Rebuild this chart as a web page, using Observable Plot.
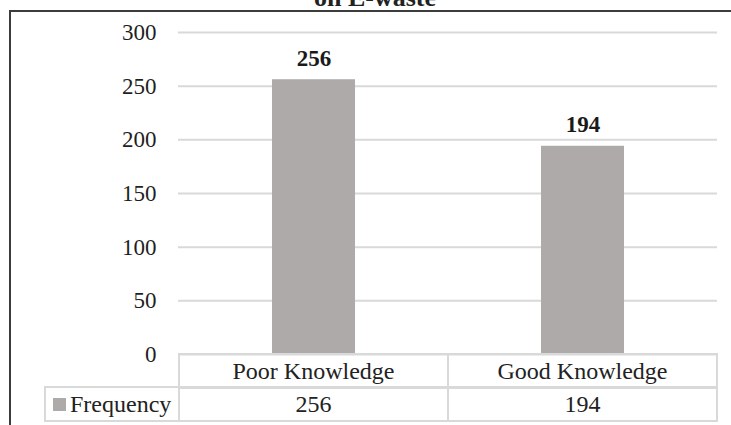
<!DOCTYPE html>
<html>
<head>
<meta charset="utf-8">
<script src="https://cdn.jsdelivr.net/npm/d3@7"></script>
<script src="https://cdn.jsdelivr.net/npm/@observablehq/plot@0.6"></script>
<style>
  body { margin: 0; background: #fff; }
  #wrap { position: relative; width: 731px; height: 425px; overflow: hidden;
          font-family: "Liberation Serif", "Times New Roman", serif; color: #222; background: #fff; }
  #frame { position: absolute; left: 9px; top: 10px; width: 760px; height: 460px;
           border-left: 2px solid #3c3c3c; border-top: 2px solid #3c3c3c; }
  #title { position: absolute; left: 8px; width: 734px; top: -15px; text-align: center;
           font-weight: bold; font-size: 26px; line-height: 26px; white-space: nowrap; }
  #chart { position: absolute; left: 0; top: 0; }
  .cell { position: absolute; box-sizing: border-box; border: 2px solid #d9d9d9;
          font-size: 24px; display: flex; align-items: center; justify-content: center;
          white-space: nowrap; background: transparent; }
  .key { display: inline-block; width: 13px; height: 13px; margin-right: 4px; }
</style>
</head>
<body>
<div id="wrap">
  <div id="title"></div>
  <div id="chart"></div>
  <div id="frame"></div>
</div>
<script>
const titleText = "on E-waste";
const categories = ["Poor Knowledge", "Good Knowledge"];
const frequency = [256, 194];
const seriesName = "Frequency";
const yTicks = [0, 50, 100, 150, 200, 250, 300];
const barColor = "#aeaaaa";

document.getElementById("title").textContent = titleText;

const data = categories.map((c, i) => ({category: c, value: frequency[i]}));

const chart = Plot.plot({
  width: 731,
  height: 425,
  marginLeft: 178,
  marginRight: 14,
  marginTop: 32,
  marginBottom: 71,
  style: {fontFamily: "'Liberation Serif', 'Times New Roman', serif", fontSize: "23px", color: "#222", background: "transparent", overflow: "visible"},
  x: {domain: categories, padding: 0, axis: null},
  y: {domain: [0, 300], axis: null},
  marks: [
    Plot.gridY(yTicks, {stroke: "#d9d9d9", strokeOpacity: 1, strokeWidth: 2}),
    Plot.axisY(yTicks, {tickSize: 0, tickPadding: 22, tickFormat: d => String(d), fontSize: 23, fill: "#1f1f1f", label: null}),
    Plot.barY(data, {x: "category", y: "value", fill: barColor, insetLeft: 93, insetRight: 93}),
    Plot.text(data, {x: "category", y: "value", text: d => String(d.value), dy: -14, lineAnchor: "bottom",
                     fontWeight: "bold", fontSize: 23, fill: "#1a1a1a"})
  ]
});
document.getElementById("chart").appendChild(chart);

// Data table below the chart, columns from the Plot x scale
const xs = chart.scale("x");
const wrap = document.getElementById("wrap");
const row1Top = 354, row1H = 34, row2Top = 387, row2H = 34;
const tableLeft = 45;
function cell(left, right, top, h, html) {
  const d = document.createElement("div");
  d.className = "cell";
  d.style.left = (left - 1) + "px";
  d.style.width = (right - left + 2) + "px";
  d.style.top = (top - 1) + "px";
  d.style.height = (h + 2) + "px";
  d.innerHTML = html;
  wrap.insertBefore(d, document.getElementById("frame"));
  return d;
}
categories.forEach((c, i) => {
  const x0 = xs.apply(c), x1 = x0 + xs.bandwidth;
  cell(x0, x1, row1Top, row1H, c);
  cell(x0, x1, row2Top, row2H, String(frequency[i]));
});
const firstX = xs.apply(categories[0]);
const k = cell(tableLeft, firstX, row2Top, row2H,
  `<span class="key" style="background:${barColor}"></span>${seriesName}`);
k.style.justifyContent = "flex-start";
k.style.paddingLeft = "7px";
</script>
</body>
</html>
